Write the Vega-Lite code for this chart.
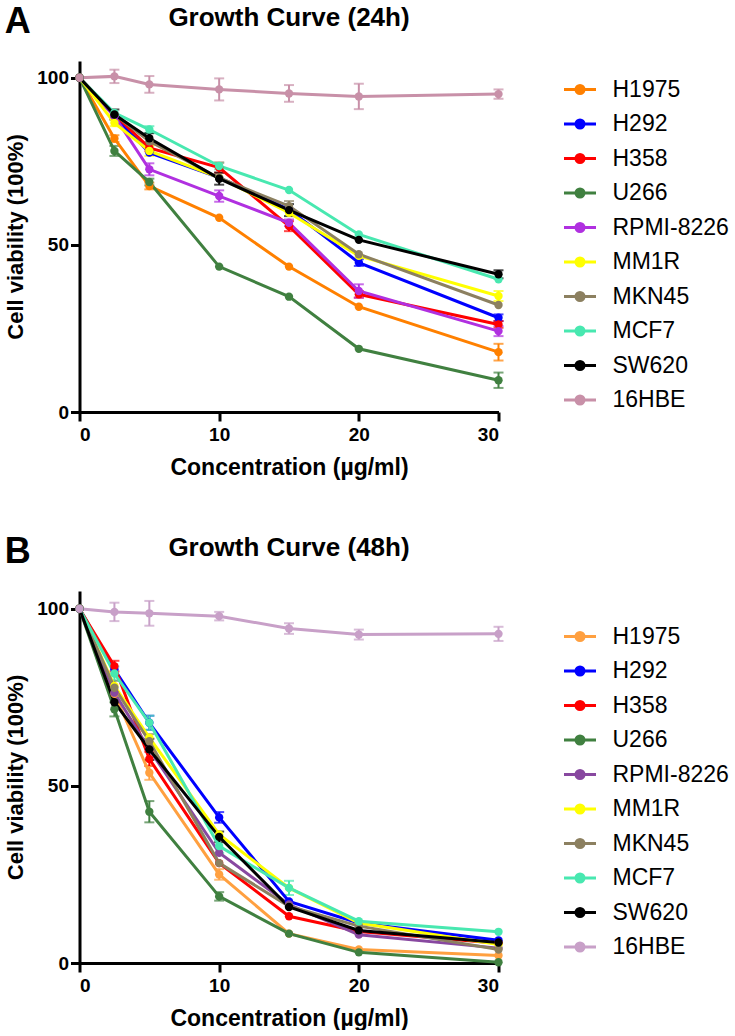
{
  "$schema": "https://vega.github.io/schema/vega-lite/v6.json",
  "background": "white",
  "padding": {"left": 4.5, "top": 4, "right": 0, "bottom": 0},
  "config": {
    "view": {"stroke": null},
    "font": "Liberation Sans",
    "axis": {
      "grid": false,
      "domainColor": "black",
      "domainWidth": 3,
      "tickColor": "black",
      "tickWidth": 3,
      "tickSize": 9,
      "labelFont": "Liberation Sans",
      "labelFontWeight": "bold",
      "labelFontSize": 19,
      "labelColor": "black",
      "titleFont": "Liberation Sans",
      "titleFontWeight": "bold",
      "titleFontSize": 23,
      "titleColor": "black"
    },
    "title": {"font": "Liberation Sans", "fontWeight": "bold", "color": "black"},
    "legend": {
      "labelFont": "Liberation Sans",
      "labelFontSize": 23,
      "labelColor": "black",
      "symbolType": "M-1,0H1M-0.25,0A0.25,0.25 0 1 1 0.25,0A0.25,0.25 0 1 1 -0.25,0Z",
      "symbolSize": 1024,
      "symbolStrokeWidth": 3,
      "symbolOpacity": 1,
      "labelOffset": 15,
      "rowPadding": 4.5,
      "padding": 0,
      "title": null
    }
  },
  "datasets": {
    "d24": [
      {"line": "H1975", "conc": 0, "v": 100, "err": 0},
      {"line": "H1975", "conc": 2.5, "v": 81.8, "err": 1},
      {"line": "H1975", "conc": 5, "v": 67.6, "err": 1},
      {"line": "H1975", "conc": 10, "v": 58.1, "err": 0},
      {"line": "H1975", "conc": 15, "v": 43.5, "err": 0},
      {"line": "H1975", "conc": 20, "v": 31.5, "err": 0},
      {"line": "H1975", "conc": 30, "v": 17.9, "err": 2.5},
      {"line": "H292", "conc": 0, "v": 100, "err": 0},
      {"line": "H292", "conc": 2.5, "v": 88.5, "err": 0},
      {"line": "H292", "conc": 5, "v": 77.6, "err": 0},
      {"line": "H292", "conc": 10, "v": 70.1, "err": 0},
      {"line": "H292", "conc": 15, "v": 60.6, "err": 0},
      {"line": "H292", "conc": 20, "v": 44.7, "err": 1},
      {"line": "H292", "conc": 30, "v": 28.2, "err": 1},
      {"line": "H358", "conc": 0, "v": 100, "err": 0},
      {"line": "H358", "conc": 2.5, "v": 89, "err": 0},
      {"line": "H358", "conc": 5, "v": 79, "err": 1},
      {"line": "H358", "conc": 10, "v": 73.1, "err": 1.5},
      {"line": "H358", "conc": 15, "v": 55.6, "err": 1.5},
      {"line": "H358", "conc": 20, "v": 35.2, "err": 1},
      {"line": "H358", "conc": 30, "v": 26.2, "err": 1},
      {"line": "U266", "conc": 0, "v": 100, "err": 0},
      {"line": "U266", "conc": 2.5, "v": 78.1, "err": 1.5},
      {"line": "U266", "conc": 5, "v": 68.8, "err": 1},
      {"line": "U266", "conc": 10, "v": 43.5, "err": 0},
      {"line": "U266", "conc": 15, "v": 34.5, "err": 0},
      {"line": "U266", "conc": 20, "v": 18.9, "err": 0},
      {"line": "U266", "conc": 30, "v": 9.5, "err": 2.3},
      {"line": "RPMI-8226", "conc": 0, "v": 100, "err": 0},
      {"line": "RPMI-8226", "conc": 2.5, "v": 88.5, "err": 0},
      {"line": "RPMI-8226", "conc": 5, "v": 72.6, "err": 1.8},
      {"line": "RPMI-8226", "conc": 10, "v": 64.6, "err": 1.7},
      {"line": "RPMI-8226", "conc": 15, "v": 56.6, "err": 1},
      {"line": "RPMI-8226", "conc": 20, "v": 36.2, "err": 2},
      {"line": "RPMI-8226", "conc": 30, "v": 24.2, "err": 1.5},
      {"line": "MM1R", "conc": 0, "v": 100, "err": 0},
      {"line": "MM1R", "conc": 2.5, "v": 86.5, "err": 1},
      {"line": "MM1R", "conc": 5, "v": 78.1, "err": 1.5},
      {"line": "MM1R", "conc": 10, "v": 70.1, "err": 0},
      {"line": "MM1R", "conc": 15, "v": 59.6, "err": 0},
      {"line": "MM1R", "conc": 20, "v": 46.7, "err": 0},
      {"line": "MM1R", "conc": 30, "v": 34.7, "err": 1.5},
      {"line": "MKN45", "conc": 0, "v": 100, "err": 0},
      {"line": "MKN45", "conc": 2.5, "v": 89, "err": 0},
      {"line": "MKN45", "conc": 5, "v": 81, "err": 0},
      {"line": "MKN45", "conc": 10, "v": 70, "err": 0},
      {"line": "MKN45", "conc": 15, "v": 61.6, "err": 1.5},
      {"line": "MKN45", "conc": 20, "v": 47.2, "err": 0},
      {"line": "MKN45", "conc": 30, "v": 32.0, "err": 0},
      {"line": "MCF7", "conc": 0, "v": 100, "err": 0},
      {"line": "MCF7", "conc": 2.5, "v": 89.5, "err": 0},
      {"line": "MCF7", "conc": 5, "v": 84.5, "err": 1},
      {"line": "MCF7", "conc": 10, "v": 73.6, "err": 1},
      {"line": "MCF7", "conc": 15, "v": 66.4, "err": 0},
      {"line": "MCF7", "conc": 20, "v": 53.1, "err": 0},
      {"line": "MCF7", "conc": 30, "v": 39.7, "err": 0},
      {"line": "SW620", "conc": 0, "v": 100, "err": 0},
      {"line": "SW620", "conc": 2.5, "v": 89, "err": 1.5},
      {"line": "SW620", "conc": 5, "v": 81.9, "err": 1.5},
      {"line": "SW620", "conc": 10, "v": 69.8, "err": 1.8},
      {"line": "SW620", "conc": 15, "v": 60.4, "err": 1.8},
      {"line": "SW620", "conc": 20, "v": 51.5, "err": 0},
      {"line": "SW620", "conc": 30, "v": 41.2, "err": 1.2},
      {"line": "16HBE", "conc": 0, "v": 100, "err": 0},
      {"line": "16HBE", "conc": 2.5, "v": 100.4, "err": 2},
      {"line": "16HBE", "conc": 5, "v": 98.0, "err": 2.5},
      {"line": "16HBE", "conc": 10, "v": 96.5, "err": 3.3},
      {"line": "16HBE", "conc": 15, "v": 95.3, "err": 2.5},
      {"line": "16HBE", "conc": 20, "v": 94.4, "err": 3.8},
      {"line": "16HBE", "conc": 30, "v": 95.1, "err": 1.4}
    ],
    "d48": [
      {"line": "H1975", "conc": 0, "v": 100, "err": 0},
      {"line": "H1975", "conc": 2.5, "v": 76, "err": 0},
      {"line": "H1975", "conc": 5, "v": 53.7, "err": 2},
      {"line": "H1975", "conc": 10, "v": 25.0, "err": 1.5},
      {"line": "H1975", "conc": 15, "v": 8.3, "err": 0},
      {"line": "H1975", "conc": 20, "v": 3.8, "err": 0},
      {"line": "H1975", "conc": 30, "v": 2.1, "err": 0},
      {"line": "H292", "conc": 0, "v": 100, "err": 0},
      {"line": "H292", "conc": 2.5, "v": 82.9, "err": 0},
      {"line": "H292", "conc": 5, "v": 67.8, "err": 2},
      {"line": "H292", "conc": 10, "v": 41.1, "err": 1.5},
      {"line": "H292", "conc": 15, "v": 17.4, "err": 0},
      {"line": "H292", "conc": 20, "v": 11.3, "err": 0},
      {"line": "H292", "conc": 30, "v": 6.4, "err": 0},
      {"line": "H358", "conc": 0, "v": 100, "err": 0},
      {"line": "H358", "conc": 2.5, "v": 83.8, "err": 1.5},
      {"line": "H358", "conc": 5, "v": 57.6, "err": 2},
      {"line": "H358", "conc": 10, "v": 28.2, "err": 0},
      {"line": "H358", "conc": 15, "v": 13.2, "err": 0},
      {"line": "H358", "conc": 20, "v": 8.9, "err": 0},
      {"line": "H358", "conc": 30, "v": 5.6, "err": 0},
      {"line": "U266", "conc": 0, "v": 100, "err": 0},
      {"line": "U266", "conc": 2.5, "v": 71.6, "err": 2},
      {"line": "U266", "conc": 5, "v": 42.7, "err": 3},
      {"line": "U266", "conc": 10, "v": 18.8, "err": 1.2},
      {"line": "U266", "conc": 15, "v": 8.3, "err": 0},
      {"line": "U266", "conc": 20, "v": 3.0, "err": 0},
      {"line": "U266", "conc": 30, "v": 0.2, "err": 0},
      {"line": "RPMI-8226", "conc": 0, "v": 100, "err": 0},
      {"line": "RPMI-8226", "conc": 2.5, "v": 76.3, "err": 0},
      {"line": "RPMI-8226", "conc": 5, "v": 60.3, "err": 0},
      {"line": "RPMI-8226", "conc": 10, "v": 31.1, "err": 0},
      {"line": "RPMI-8226", "conc": 15, "v": 16.5, "err": 0},
      {"line": "RPMI-8226", "conc": 20, "v": 8.0, "err": 0},
      {"line": "RPMI-8226", "conc": 30, "v": 4.2, "err": 0},
      {"line": "MM1R", "conc": 0, "v": 100, "err": 0},
      {"line": "MM1R", "conc": 2.5, "v": 78.2, "err": 0},
      {"line": "MM1R", "conc": 5, "v": 63.6, "err": 0},
      {"line": "MM1R", "conc": 10, "v": 36.3, "err": 0},
      {"line": "MM1R", "conc": 15, "v": 21.2, "err": 0},
      {"line": "MM1R", "conc": 20, "v": 11.3, "err": 0},
      {"line": "MM1R", "conc": 30, "v": 5.2, "err": 0},
      {"line": "MKN45", "conc": 0, "v": 100, "err": 0},
      {"line": "MKN45", "conc": 2.5, "v": 77.7, "err": 2},
      {"line": "MKN45", "conc": 5, "v": 62.6, "err": 2},
      {"line": "MKN45", "conc": 10, "v": 28.2, "err": 0},
      {"line": "MKN45", "conc": 15, "v": 16.0, "err": 0},
      {"line": "MKN45", "conc": 20, "v": 10.4, "err": 0},
      {"line": "MKN45", "conc": 30, "v": 3.8, "err": 0},
      {"line": "MCF7", "conc": 0, "v": 100, "err": 0},
      {"line": "MCF7", "conc": 2.5, "v": 81.7, "err": 2},
      {"line": "MCF7", "conc": 5, "v": 67.8, "err": 2},
      {"line": "MCF7", "conc": 10, "v": 33.0, "err": 2},
      {"line": "MCF7", "conc": 15, "v": 21.2, "err": 2},
      {"line": "MCF7", "conc": 20, "v": 11.8, "err": 0},
      {"line": "MCF7", "conc": 30, "v": 8.8, "err": 0},
      {"line": "SW620", "conc": 0, "v": 100, "err": 0},
      {"line": "SW620", "conc": 2.5, "v": 73.6, "err": 0},
      {"line": "SW620", "conc": 5, "v": 60.3, "err": 3},
      {"line": "SW620", "conc": 10, "v": 35.6, "err": 1.5},
      {"line": "SW620", "conc": 15, "v": 15.8, "err": 0},
      {"line": "SW620", "conc": 20, "v": 9.2, "err": 0},
      {"line": "SW620", "conc": 30, "v": 5.8, "err": 0},
      {"line": "16HBE", "conc": 0, "v": 100, "err": 0},
      {"line": "16HBE", "conc": 2.5, "v": 99.1, "err": 2.6},
      {"line": "16HBE", "conc": 5, "v": 98.7, "err": 3.5},
      {"line": "16HBE", "conc": 10, "v": 97.9, "err": 1.2},
      {"line": "16HBE", "conc": 15, "v": 94.4, "err": 1.5},
      {"line": "16HBE", "conc": 20, "v": 92.7, "err": 1.4},
      {"line": "16HBE", "conc": 30, "v": 92.9, "err": 2}
    ]
  },
  "spacing": 55,
  "resolve": {"scale": {"color": "independent"}, "legend": {"color": "independent"}},
  "vconcat": [
    {
      "title": {"text": "A", "anchor": "start", "fontSize": 36, "offset": -36, "frame": "bounds"},
      "vconcat": [
        {
          "width": 419,
          "height": 351,
          "title": {"text": "Growth Curve (24h)", "anchor": "middle", "frame": "group", "fontSize": 26, "offset": 30},
          "data": {"name": "d24"},
          "encoding": {
            "x": {"field": "conc", "type": "quantitative", "scale": {"domain": [0, 30], "nice": false}, "axis": {"values": [0, 10, 20, 30], "title": "Concentration (µg/ml)", "labelPadding": 4, "titlePadding": 12}},
            "y": {"field": "v", "type": "quantitative", "scale": {"domain": [0, 105], "nice": false}, "axis": {"values": [0, 50, 100], "title": "Cell viability (100%)", "titleFontSize": 22, "labelPadding": 2, "titlePadding": 9}},
            "color": {
              "field": "line", "type": "nominal",
              "scale": {
                "domain": ["H1975", "H292", "H358", "U266", "RPMI-8226", "MM1R", "MKN45", "MCF7", "SW620", "16HBE"],
                "range": ["#FF8000", "#0000FF", "#FF0000", "#408040", "#B030E0", "#FFFF00", "#8C8060", "#48E8B0", "#000000", "#C890A8"]
              },
              "legend": {"orient": "none", "legendX": 483, "legendY": 11}
            }
          },
          "layer": [
            {"transform": [{"filter": "datum.err > 0"}], "mark": {"type": "errorbar", "ticks": {"size": 10}, "thickness": 2}, "encoding": {"yError": {"field": "err"}}},
            {"mark": {"type": "line", "strokeWidth": 3}},
            {"mark": {"type": "point", "filled": true, "size": 70, "opacity": 1}}
          ]
        }
      ]
    },
    {
      "title": {"text": "B", "anchor": "start", "fontSize": 36, "offset": -36, "frame": "bounds"},
      "vconcat": [
        {
          "width": 419,
          "height": 372,
          "title": {"text": "Growth Curve (48h)", "anchor": "middle", "frame": "group", "fontSize": 26, "offset": 30},
          "data": {"name": "d48"},
          "encoding": {
            "x": {"field": "conc", "type": "quantitative", "scale": {"domain": [0, 30], "nice": false}, "axis": {"values": [0, 10, 20, 30], "title": "Concentration (µg/ml)", "labelPadding": 4, "titlePadding": 12}},
            "y": {"field": "v", "type": "quantitative", "scale": {"domain": [0, 105], "nice": false}, "axis": {"values": [0, 50, 100], "title": "Cell viability (100%)", "titleFontSize": 22, "labelPadding": 2, "titlePadding": 9}},
            "color": {
              "field": "line", "type": "nominal",
              "scale": {
                "domain": ["H1975", "H292", "H358", "U266", "RPMI-8226", "MM1R", "MKN45", "MCF7", "SW620", "16HBE"],
                "range": ["#FFA040", "#0000FF", "#FF0000", "#408040", "#8848A0", "#FFFF00", "#8C8060", "#48E8B0", "#000000", "#C8A0C8"]
              },
              "legend": {"orient": "none", "legendX": 483, "legendY": 28}
            }
          },
          "layer": [
            {"transform": [{"filter": "datum.err > 0"}], "mark": {"type": "errorbar", "ticks": {"size": 10}, "thickness": 2}, "encoding": {"yError": {"field": "err"}}},
            {"mark": {"type": "line", "strokeWidth": 3}},
            {"mark": {"type": "point", "filled": true, "size": 70, "opacity": 1}}
          ]
        }
      ]
    }
  ]
}
